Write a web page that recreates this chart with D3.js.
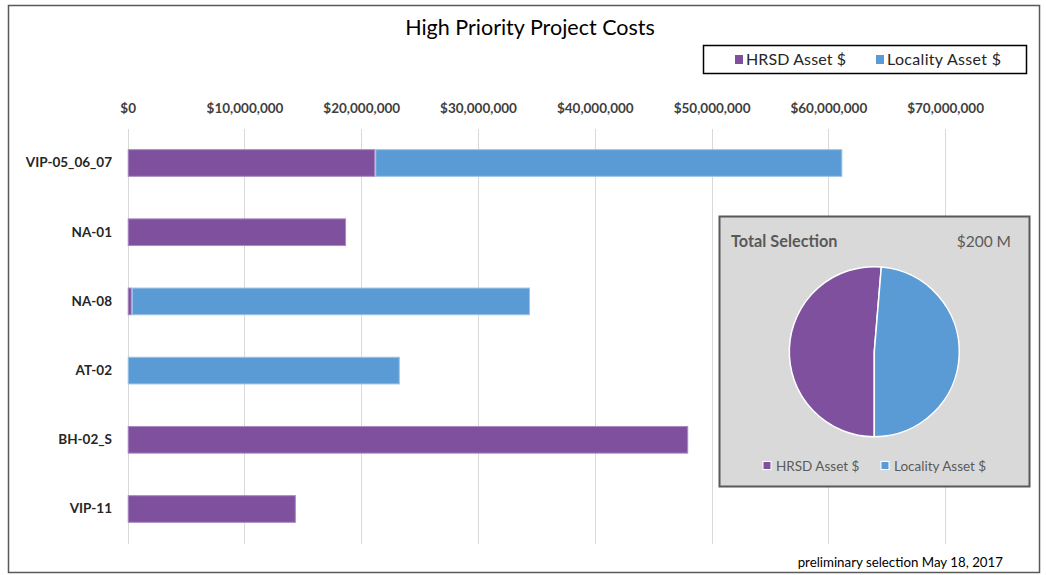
<!DOCTYPE html>
<html>
<head>
<meta charset="utf-8">
<script src="https://cdn.jsdelivr.net/npm/d3@7"></script>
<style>
  html, body { margin: 0; padding: 0; background: #fff; }
  svg { display: block; font-family: Lato, "Open Sans", sans-serif; }
</style>
</head>
<body>
<svg id="chart" width="1046" height="575"></svg>
<script>
// ---- data ----
const categories = ["VIP-05_06_07", "NA-01", "NA-08", "AT-02", "BH-02_S", "VIP-11"];
const hrsdValues = [21.2e6, 18.7e6, 0.35e6, 0, 48.0e6, 14.4e6];
const localityValues = [40.0e6, 0, 34.1e6, 23.3e6, 0, 0];
const seriesNames = ["HRSD Asset $", "Locality Asset $"];
const tickValues = [0, 10e6, 20e6, 30e6, 40e6, 50e6, 60e6, 70e6];
const titleText = "High Priority Project Costs";
const footerText = "preliminary selection May 18, 2017";
const pieTitle = "Total Selection";

const colors = ["#7E509E", "#5B9BD5"];
const strokes = ["#A98BC2", "#9CC3E6"];

const svg = d3.select("#chart");

// outer border
svg.append("rect").attr("x", 8.5).attr("y", 5.5).attr("width", 1031).attr("height", 567)
  .attr("fill", "#fff").attr("stroke", "#595959").attr("stroke-width", 1.5);

// title
svg.append("text").attr("x", 530).attr("y", 35).attr("text-anchor", "middle")
  .attr("font-size", 21.5).attr("fill", "#000").text(titleText);

// scales
const x = d3.scaleLinear().domain([0, 70e6]).range([127.7, 945.1]);
const y = d3.scaleBand().domain(categories).range([128.4, 543.6]).paddingInner(0.6).paddingOuter(0.3);

// gridlines
svg.append("g").selectAll("line").data(tickValues).join("line")
  .attr("x1", d => Math.round(x(d)) + 0.5).attr("x2", d => Math.round(x(d)) + 0.5)
  .attr("y1", 129).attr("y2", 544)
  .attr("stroke", "#d9d9d9").attr("stroke-width", 1);

// top axis labels
const fmt = d3.format("$,.0f");
const xAxis = d3.axisTop(x).tickValues(tickValues).tickFormat(d => fmt(d)).tickSize(0).tickPadding(0);
const gx = svg.append("g").attr("transform", "translate(0,113)").call(xAxis);
gx.select(".domain").remove();
gx.selectAll("text").attr("font-size", 13.5).attr("font-weight", "bold").attr("fill", "#404040")
  .attr("font-family", "Lato, sans-serif").attr("dy", 0);

// left axis labels
const yAxis = d3.axisLeft(y).tickSize(0).tickPadding(0);
const gy = svg.append("g").attr("transform", "translate(112,0)").call(yAxis);
gy.select(".domain").remove();
gy.selectAll("text").attr("font-size", 13.5).attr("font-weight", "bold").attr("fill", "#262626")
  .attr("font-family", "Lato, sans-serif");

// stacked bars
const rows = categories.map((c, i) => ({ cat: c, hrsd: hrsdValues[i], locality: localityValues[i] }));
const stack = d3.stack().keys(["hrsd", "locality"]);
const stacked = stack(rows);
svg.append("g").selectAll("g").data(stacked).join("g")
  .attr("fill", (d, i) => colors[i]).attr("stroke", (d, i) => strokes[i]).attr("stroke-width", 1)
  .selectAll("rect").data(d => d.filter(p => p[1] - p[0] > 0)).join("rect")
  .attr("x", d => x(d[0]) + 0.5)
  .attr("y", d => y(d.data.cat) + 0.5)
  .attr("width", d => Math.max(0, x(d[1]) - x(d[0]) - 1))
  .attr("height", y.bandwidth() - 1);

// legend (top)
const lg = svg.append("g");
lg.append("rect").attr("x", 703.5).attr("y", 45.5).attr("width", 323).attr("height", 28)
  .attr("fill", "#fff").attr("stroke", "#000").attr("stroke-width", 1.5);
const legX = [735, 876];
seriesNames.forEach((name, i) => {
  lg.append("rect").attr("x", legX[i]).attr("y", 55).attr("width", 8).attr("height", 9).attr("fill", colors[i]);
  lg.append("text").attr("x", legX[i] + 11).attr("y", 65).attr("font-size", 16).attr("fill", "#262626")
    .attr("textLength", i === 0 ? 100 : 114).text(name);
});

// pie panel
const pg = svg.append("g");
pg.append("rect").attr("x", 719.5).attr("y", 216.5).attr("width", 310).attr("height", 270)
  .attr("fill", "#d9d9d9").attr("stroke", "#595959").attr("stroke-width", 2);
pg.append("text").attr("x", 731).attr("y", 247).attr("font-size", 16.3).attr("font-weight", "bold")
  .attr("fill", "#595959").text(pieTitle);
const totals = [d3.sum(hrsdValues), d3.sum(localityValues)];
const grand = d3.sum(totals);
pg.append("text").attr("x", 1011).attr("y", 247).attr("text-anchor", "end").attr("font-size", 15.5)
  .attr("fill", "#595959").text("$" + Math.round(grand / 1e6) + " M");

const pie = d3.pie().sort(null).startAngle(Math.PI).endAngle(3 * Math.PI);
const arc = d3.arc().innerRadius(0).outerRadius(85);
pg.append("g").attr("transform", "translate(874.3,351.7)")
  .selectAll("path").data(pie(totals)).join("path")
  .attr("d", arc).attr("fill", (d, i) => colors[i])
  .attr("stroke", "#fff").attr("stroke-width", 1.5);

const plX = [763, 881];
seriesNames.forEach((name, i) => {
  pg.append("rect").attr("x", plX[i]).attr("y", 461.5).attr("width", 8).attr("height", 8)
    .attr("fill", colors[i]).attr("stroke", "#fff").attr("stroke-width", 1);
  pg.append("text").attr("x", plX[i] + 13).attr("y", 471).attr("font-size", 13.5)
    .attr("fill", "#595959").text(name);
});

// footer
svg.append("text").attr("x", 1003).attr("y", 567).attr("text-anchor", "end").attr("font-size", 13.3)
  .attr("fill", "#000").text(footerText);
</script>
</body>
</html>
